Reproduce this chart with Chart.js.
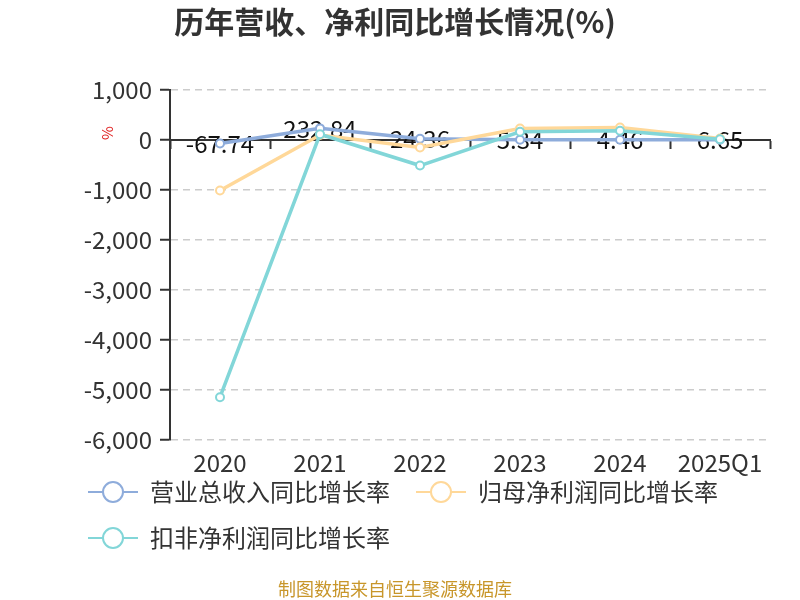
<!DOCTYPE html>
<html>
<head>
<meta charset="utf-8">
<script src="https://cdn.jsdelivr.net/npm/chart.js@4.4.1/dist/chart.umd.min.js"></script>
<style>
  html, body { margin: 0; padding: 0; background: #fff; }
  #wrap { width: 800px; height: 600px; }
</style>
</head>
<body>
<div id="wrap"><canvas id="growthChart" width="800" height="600"></canvas></div>
<script>
// dati
const anni = ['2020', '2021', '2022', '2023', '2024', '2025Q1'];
const ricaviYoY = [-67.74, 232.84, 24.36, 5.34, 4.46, 6.65];
const utileNettoYoY = [-1010, 100, -150, 230, 250, 30];
const utileRicorrenteYoY = [-5140, 115, -510, 165, 185, 15];
const nomiSerie = ['营业总收入同比增长率', '归母净利润同比增长率', '扣非净利润同比增长率'];
const coloriSerie = ['#8eacdb', '#ffd899', '#82d6d8'];

const FONT = "'Noto Sans CJK SC', 'Noto Sans', sans-serif";

// icona della legenda: linea con cerchio vuoto
function creaIcona(colore) {
    const c = document.createElement('canvas');
    c.width = 54;
    c.height = 24;
    const g = c.getContext('2d');
    g.strokeStyle = colore;
    g.lineWidth = 2;
    g.beginPath();
    g.moveTo(4, 12);
    g.lineTo(54, 12);
    g.stroke();
    g.fillStyle = '#fff';
    g.beginPath();
    g.arc(29, 12, 10, 0, Math.PI * 2);
    g.fill();
    g.stroke();
    return c;
}

// etichette dei valori della prima serie + simbolo %
const etichettePlugin = {
    id: 'etichette',
    afterLayout(chart) {
        // sposta la legenda come nell'originale
        const lg = chart.legend;
        const dy = lg.top - 458;
        lg.top -= dy;
        lg.bottom -= dy;
        lg.left = 62;
    },
    beforeDatasetsDraw(chart) {
        const ctx = chart.ctx;
        const meta = chart.getDatasetMeta(0);
        ctx.save();
        ctx.font = '24px ' + FONT;
        ctx.fillStyle = '#111';
        ctx.textAlign = 'center';
        ctx.textBaseline = 'middle';
        meta.data.forEach((p, i) => {
            ctx.fillText(ricaviYoY[i].toFixed(2), p.x, p.y);
        });
        ctx.restore();
    },
    afterDraw(chart) {
        const ctx = chart.ctx;
        ctx.save();
        ctx.translate(107, 133);
        ctx.rotate(-Math.PI / 2);
        ctx.font = '15px ' + FONT;
        ctx.fillStyle = '#e02020';
        ctx.textAlign = 'center';
        ctx.textBaseline = 'middle';
        ctx.fillText('%', 0, 0);
        ctx.restore();
    }
};

const serie = [ricaviYoY, utileNettoYoY, utileRicorrenteYoY];

const ctx = document.getElementById('growthChart').getContext('2d');
new Chart(ctx, {
    type: 'line',
    data: {
        labels: anni,
        datasets: serie.map((dati, i) => ({
            label: nomiSerie[i],
            data: dati,
            borderColor: coloriSerie[i],
            backgroundColor: '#fff',
            borderWidth: 3.5,
            pointRadius: 4,
            pointBorderWidth: 2,
            pointBackgroundColor: '#fff',
            pointBorderColor: coloriSerie[i],
            tension: 0,
            order: 3 - i,
            xAxisID: 'x'
        }))
    },
    options: {
        responsive: false,
        animation: false,
        layout: { padding: { left: 20, right: 30, top: 0, bottom: 0 } },
        plugins: {
            title: {
                display: true,
                text: '历年营收、净利同比增长情况(%)',
                color: '#333',
                font: { family: FONT, size: 30, weight: 'bold' },
                padding: { top: 4, bottom: 50 }
            },
            subtitle: {
                display: true,
                position: 'bottom',
                text: '制图数据来自恒生聚源数据库',
                color: '#c8962a',
                font: { family: FONT, size: 18, lineHeight: 0.6 },
                padding: { top: 0, bottom: 5 }
            },
            legend: {
                position: 'bottom',
                align: 'start',
                labels: {
                    usePointStyle: true,
                    pointStyleWidth: 54,
                    boxHeight: 24,
                    padding: 22,
                    color: '#333',
                    font: { family: FONT, size: 24 },
                    generateLabels(chart) {
                        const items = Chart.defaults.plugins.legend.labels.generateLabels(chart);
                        items.sort((a, b) => a.datasetIndex - b.datasetIndex);
                        items.forEach(it => {
                            it.pointStyle = creaIcona(coloriSerie[it.datasetIndex]);
                        });
                        return items;
                    }
                }
            },
            tooltip: { enabled: false }
        },
        scales: {
            x: {
                type: 'category',
                position: 'bottom',
                offset: true,
                grid: { display: false },
                border: { display: false },
                ticks: { color: '#333', padding: 0, font: { family: FONT, size: 24 }, maxRotation: 0 },
                afterFit(scale) { scale.height = 42; }
            },
            x0: {
                type: 'category',
                axis: 'x',
                labels: anni,
                position: { y: 0 },
                offset: true,
                ticks: { display: false },
                grid: {
                    display: true,
                    offset: true,
                    drawOnChartArea: false,
                    drawTicks: true,
                    tickLength: 8,
                    tickColor: '#333',
                    tickWidth: 2
                },
                border: { display: true, color: '#333', width: 2 }
            },
            y: {
                min: -6000,
                max: 1000,
                ticks: { stepSize: 1000, color: '#333', padding: 8, font: { family: FONT, size: 24 } },
                grid: { color: '#cccccc', lineWidth: 1.5, tickLength: 10, tickColor: '#333', tickWidth: 2 },
                border: { display: true, color: '#333', width: 2, dash: [7, 5] },
                afterFit(scale) { scale.width = 150; }
            }
        }
    },
    plugins: [etichettePlugin]
});
</script>
</body>
</html>
